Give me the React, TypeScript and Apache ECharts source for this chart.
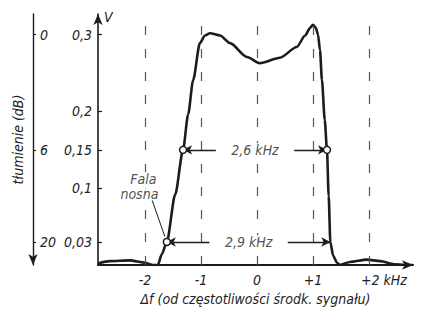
import React, { useEffect, useRef } from "react";
import * as echarts from "echarts";

// Frequency offset (kHz) and output voltage (V) along the response curve
const freqKHz = [
  -2.839, -2.63, -2.27, -2.0, -1.86, -1.77, -1.7, -1.61, -1.46, -1.32, -1.23, -1.14, -1.02, -0.93,
  -0.84, -0.66, -0.48, -0.18, 0.05, 0.41, 0.71, 0.86, 0.95, 1.0, 1.05, 1.09, 1.125, 1.16, 1.21,
  1.25, 1.28, 1.31, 1.36, 1.43, 1.48, 1.66, 1.96, 2.2, 2.46, 2.64, 2.786,
];
const voltage = [
  0.002, 0.005, 0.006, 0.003, 0.0, 0.0, 0.014, 0.03, 0.092, 0.15, 0.196, 0.241, 0.289, 0.299,
  0.302, 0.299, 0.289, 0.271, 0.263, 0.27, 0.284, 0.299, 0.309, 0.313, 0.309, 0.3, 0.28, 0.241,
  0.189, 0.15, 0.09, 0.03, 0.012, 0.003, 0.0, 0.004, 0.007, 0.005, 0.001, 0.0, 0.0,
];

// Axis ticks
const xTickValues = [-2, -1, 0, 1, 2];
const voltTicks = [0.03, 0.1, 0.15, 0.2, 0.3];
const dbTicks = [0, 6, 20];
const dbVolt = [0.3, 0.15, 0.03];
const guideFreqs = [-2, -1, 0, 1, 2];

// Bandwidth markings
const bandLevels = [0.15, 0.03];
const bandLow = [-1.32, -1.61];
const bandHigh = [1.25, 1.31];
const bandLabels = ["2,6 kHz", "2,9 kHz"];
const carrierWords = ["Fala", "nosna"];
const carrierWordPos = [
  [-2.03, 0.112],
  [-2.1, 0.093],
];
const carrierLeader = [
  [-1.875, 0.085],
  [-1.645, 0.037],
];

const FONT =
  "'Liberation Sans Narrow','DejaVu Sans Condensed','Roboto Condensed','DejaVu Sans',sans-serif";
const INK = "#1c1c1c";
const txt = { fontFamily: FONT, fontStyle: "italic", fontSize: 14, color: "#222" };

export default function App() {
  const ref = useRef<HTMLDivElement>(null);
  useEffect(() => {
    document.body.style.margin = "0";
    if (!ref.current) return;
    const chart = echarts.init(ref.current, null, { renderer: "svg" });

    const curve = freqKHz.map((f, i) => [f, voltage[i]]);
    const gapHalf = 0.7;
    const dimLines: any[] = [];
    const bandTexts: any[] = [];
    bandLevels.forEach((lv, i) => {
      const c = (bandLow[i] + bandHigh[i]) / 2;
      dimLines.push([
        { coord: [c - gapHalf, lv], symbol: "none" },
        { coord: [bandLow[i], lv], symbol: "arrow" },
      ]);
      dimLines.push([
        { coord: [c + gapHalf, lv], symbol: "none" },
        { coord: [bandHigh[i], lv], symbol: "arrow" },
      ]);
      bandTexts.push({ value: [c, lv], name: bandLabels[i] });
    });
    dimLines.push([
      { coord: carrierLeader[0], symbol: "none", lineStyle: { width: 1 } },
      { coord: carrierLeader[1], symbol: "none" },
    ]);
    const carrierTexts = carrierWords.map((w, i) => ({ value: carrierWordPos[i], name: w }));

    const markers = [
      [bandLow[0], bandLevels[0]],
      [bandHigh[0], bandLevels[0]],
      [bandLow[1], bandLevels[1]],
    ];

    const option: any = {
      animation: false,
      backgroundColor: "#ffffff",
      grid: { left: 98, right: 8, top: 14, bottom: 50, containLabel: false },
      xAxis: {
        type: "value",
        min: -2.839,
        max: 2.786,
        axisLine: {
          show: true,
          onZero: false,
          symbol: ["none", "arrow"],
          symbolSize: [7, 11],
          lineStyle: { color: INK, width: 2.2 },
        },
        axisTick: { show: false },
        splitLine: { show: false },
        axisLabel: {
          ...txt,
          margin: 8,
          customValues: xTickValues,
          formatter: (v: number) =>
            v === 2
              ? "{k|+2 kHz}"
              : v > 0
              ? "+" + v
              : v < 0
              ? "-" + Math.abs(v)
              : "0",
          rich: {
            k: { ...txt, padding: [0, 0, 0, 30] },
          },
        },
        name: "Δf (od częstotliwości środk. sygnału)",
        nameLocation: "middle",
        nameGap: 25,
        nameTextStyle: { ...txt },
      },
      yAxis: [
        {
          type: "value",
          min: 0,
          max: 0.327,
          position: "left",
          axisLine: {
            show: true,
            onZero: false,
            symbol: ["none", "arrow"],
            symbolSize: [7, 11],
            lineStyle: { color: INK, width: 1.6 },
          },
          axisTick: {
            show: true,
            inside: true,
            length: 4,
            customValues: voltTicks,
            lineStyle: { color: INK, width: 1.2 },
          },
          axisLabel: {
            ...txt,
            margin: 6,
            customValues: voltTicks,
            formatter: (v: number) => String(v).replace(".", ","),
          },
          splitLine: { show: false },
          name: "V",
          nameLocation: "end",
          nameGap: -3,
          nameTextStyle: { ...txt, align: "left", verticalAlign: "middle", padding: [0, 0, 0, 6] },
        },
        {
          type: "value",
          min: 0,
          max: 0.327,
          position: "left",
          offset: 65,
          axisLine: {
            show: true,
            onZero: false,
            symbol: ["arrow", "none"],
            symbolSize: [7, 11],
            lineStyle: { color: INK, width: 1.4 },
          },
          axisTick: {
            show: true,
            inside: true,
            length: 3,
            customValues: dbVolt,
            lineStyle: { color: INK, width: 1.1 },
          },
          axisLabel: {
            ...txt,
            inside: true,
            margin: 7,
            customValues: dbVolt,
            formatter: (v: number) => {
              const i = dbVolt.findIndex((d) => Math.abs(d - v) < 1e-6);
              return i >= 0 ? String(dbTicks[i]) : "";
            },
          },
          splitLine: { show: false },
          name: "tłumienie (dB)",
          nameLocation: "middle",
          nameRotate: 90,
          nameGap: 3,
          nameTextStyle: { ...txt },
        },
      ],
      series: [
        {
          type: "line",
          data: [],
          silent: true,
          z: 1,
          markLine: {
            silent: true,
            symbol: "none",
            label: { show: false },
            lineStyle: { type: [9, 14], color: "#555", width: 1.2 },
            data: guideFreqs.map((f) => [{ coord: [f, 0] }, { coord: [f, 0.318] }]),
          },
        },
        {
          type: "line",
          data: curve,
          showSymbol: false,
          smooth: 0.25,
          smoothMonotone: "x",
          silent: true,
          z: 3,
          lineStyle: { color: INK, width: 2.6 },
        },
        {
          type: "scatter",
          data: markers,
          symbol: "circle",
          symbolSize: 7,
          silent: true,
          z: 5,
          itemStyle: { color: "#fff", borderColor: INK, borderWidth: 1.5, opacity: 1 },
          markLine: {
            silent: true,
            symbolSize: [7, 9],
            label: { show: false },
            lineStyle: { type: "solid", color: INK, width: 1.4 },
            data: dimLines,
          },
        },
        {
          type: "scatter",
          data: bandTexts,
          symbolSize: 0,
          silent: true,
          z: 6,
          label: {
            show: true,
            position: "inside",
            formatter: "{b}",
            ...txt,
            backgroundColor: "#fff",
            padding: [0, 2],
          },
        },
        {
          type: "scatter",
          data: carrierTexts,
          symbolSize: 0,
          silent: true,
          z: 6,
          label: {
            show: true,
            position: "inside",
            formatter: "{b}",
            ...txt,
            backgroundColor: "#fff",
            padding: [0, 1],
          },
        },
      ],
    };
    chart.setOption(option);
    return () => chart.dispose();
  }, []);
  return <div ref={ref} style={{ width: 421, height: 315 }} />;
}
